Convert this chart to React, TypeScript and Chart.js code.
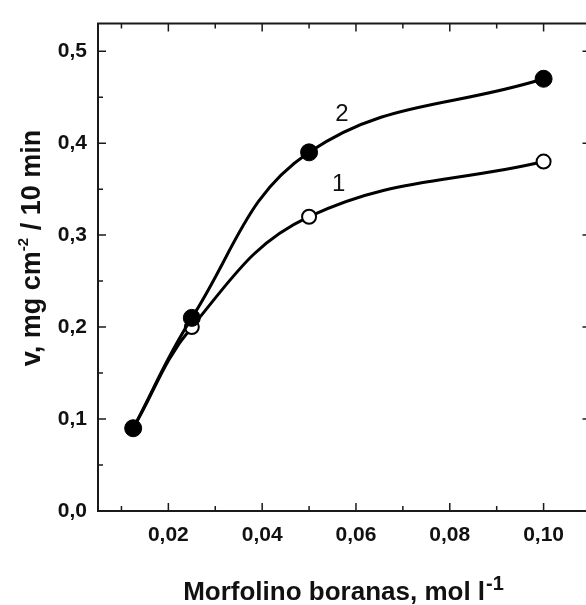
import React, { useEffect, useRef } from 'react';
import { Chart, registerables } from 'chart.js';

Chart.register(...registerables);

// ---- data ----
const concentrations = [0.0125, 0.025, 0.05, 0.1];
const rateCurve1 = [0.09, 0.2, 0.32, 0.38];
const rateCurve2 = [0.09, 0.21, 0.39, 0.47];
const xMajorTicks = [0.02, 0.04, 0.06, 0.08, 0.1];
const xMinorTicks = [0.01, 0.03, 0.05, 0.07, 0.09, 0.11];
const yMajorTicks = [0, 0.1, 0.2, 0.3, 0.4, 0.5];
const yMinorTicks = [0.05, 0.15, 0.25, 0.35, 0.45];
const curveLabels = ['1', '2'];
const curveLabelX = [0.0563, 0.057];
const curveLabelY = [0.355, 0.431];
const xTitleMain = 'Morfolino boranas, mol l';
const xTitleSup = '-1';
const yTitleA = 'v, mg cm';
const yTitleSup = '-2';
const yTitleB = ' / 10 min';

const FONT = '"Liberation Sans", Arial, sans-serif';
const INK = '#111';

const framePlugin = {
  id: 'frame',
  afterDraw(chart: any) {
    const { ctx, chartArea: a, scales } = chart;
    const xs = scales.x;
    const ys = scales.y;
    ctx.save();
    ctx.strokeStyle = '#1a1a1a';
    ctx.lineWidth = 2;
    ctx.beginPath();
    ctx.rect(a.left, a.top, a.right - a.left, a.bottom - a.top);
    ctx.stroke();

    ctx.lineWidth = 1.5;
    ctx.beginPath();
    const seg = (x1: number, y1: number, x2: number, y2: number) => {
      ctx.moveTo(x1, y1);
      ctx.lineTo(x2, y2);
    };
    xMajorTicks.forEach((v) => {
      const x = xs.getPixelForValue(v);
      seg(x, a.bottom, x, a.bottom - 8);
      seg(x, a.top, x, a.top + 8);
    });
    xMinorTicks.forEach((v) => {
      const x = xs.getPixelForValue(v);
      seg(x, a.bottom, x, a.bottom - 5);
      seg(x, a.top, x, a.top + 5);
    });
    yMajorTicks.forEach((v) => {
      const y = ys.getPixelForValue(v);
      seg(a.left, y, a.left + 8, y);
      seg(a.right, y, a.right - 8, y);
    });
    yMinorTicks.forEach((v) => {
      const y = ys.getPixelForValue(v);
      seg(a.left, y, a.left + 5, y);
      seg(a.right, y, a.right - 4, y);
    });
    ctx.stroke();

    // curve labels
    ctx.fillStyle = INK;
    ctx.font = `24px ${FONT}`;
    ctx.textAlign = 'center';
    ctx.textBaseline = 'middle';
    curveLabels.forEach((t, i) => {
      ctx.fillText(t, xs.getPixelForValue(curveLabelX[i]), ys.getPixelForValue(curveLabelY[i]));
    });

    // x title
    const mainFont = `bold 26px ${FONT}`;
    const supFont = `bold 20px ${FONT}`;
    ctx.textAlign = 'left';
    ctx.textBaseline = 'alphabetic';
    ctx.font = mainFont;
    const w1 = ctx.measureText(xTitleMain).width;
    ctx.font = supFont;
    const w2 = ctx.measureText(xTitleSup).width;
    const cx = 343;
    const x0 = cx - (w1 + w2) / 2;
    const base = 600;
    ctx.font = mainFont;
    ctx.fillText(xTitleMain, x0, base);
    ctx.font = supFont;
    ctx.fillText(xTitleSup, x0 + w1 + 1, base - 10);

    // y title (rotated)
    const yMain = `bold 27px ${FONT}`;
    const ySup = `bold 15px ${FONT}`;
    ctx.font = yMain;
    const wa = ctx.measureText(yTitleA).width;
    const wb = ctx.measureText(yTitleB).width;
    ctx.font = ySup;
    const ws = ctx.measureText(yTitleSup).width;
    const total = wa + ws + wb;
    ctx.translate(40, 248);
    ctx.rotate(-Math.PI / 2);
    let px = -total / 2;
    ctx.font = yMain;
    ctx.fillText(yTitleA, px, 0);
    px += wa;
    ctx.font = ySup;
    ctx.fillText(yTitleSup, px, -12);
    px += ws;
    ctx.font = yMain;
    ctx.fillText(yTitleB, px, 0);
    ctx.restore();
  },
};

export default function App() {
  const ref = useRef<HTMLCanvasElement>(null);
  useEffect(() => {
    if (!ref.current) return;
    const chart = new Chart(ref.current, {
      type: 'line',
      data: {
        datasets: [
          {
            label: '2',
            data: concentrations.map((c, i) => ({ x: c, y: rateCurve2[i] })),
            borderColor: '#000',
            borderWidth: 3,
            pointRadius: 8.5,
            pointBorderWidth: 1,
            pointBackgroundColor: '#000',
            pointBorderColor: '#000',
            tension: 0.4,
            fill: false,
          },
          {
            label: '1',
            data: concentrations.map((c, i) => ({ x: c, y: rateCurve1[i] })),
            borderColor: '#000',
            borderWidth: 3,
            pointRadius: 7,
            pointBorderWidth: 2,
            pointBackgroundColor: '#fff',
            pointBorderColor: '#000',
            tension: 0.4,
            fill: false,
          },
        ],
      },
      options: {
        animation: false,
        responsive: false,
        layout: { padding: { top: 18, right: 9, left: 0, bottom: 0 } },
        plugins: { legend: { display: false }, tooltip: { enabled: false } },
        scales: {
          x: {
            type: 'linear',
            min: 0.005,
            max: 0.11,
            grid: { display: false, drawTicks: false },
            border: { display: false },
            afterBuildTicks: (s: any) => {
              s.ticks = xMajorTicks.map((v) => ({ value: v }));
            },
            afterFit: (s: any) => {
              s.height = 94;
            },
            ticks: {
              padding: 12,
              autoSkip: false,
              maxRotation: 0,
              color: INK,
              font: { family: FONT, weight: 'bold', size: 21 },
              callback: (v: any) => Number(v).toFixed(2).replace('.', ','),
            },
          },
          y: {
            type: 'linear',
            min: 0,
            max: 0.53,
            grid: { display: false, drawTicks: false },
            border: { display: false },
            afterBuildTicks: (s: any) => {
              s.ticks = yMajorTicks.map((v) => ({ value: v }));
            },
            afterFit: (s: any) => {
              s.width = 98;
            },
            ticks: {
              padding: 11,
              color: INK,
              font: { family: FONT, weight: 'bold', size: 21 },
              callback: (v: any) => Number(v).toFixed(1).replace('.', ','),
            },
          },
        },
      },
      plugins: [framePlugin],
    } as any);
    return () => chart.destroy();
  }, []);
  return (
    <div style={{ position: 'absolute', left: 0, top: 0, width: 586, height: 605, overflow: 'hidden', background: '#fff' }}>
      <canvas ref={ref} width={600} height={605} style={{ width: 600, height: 605, display: 'block' }} />
    </div>
  );
}
